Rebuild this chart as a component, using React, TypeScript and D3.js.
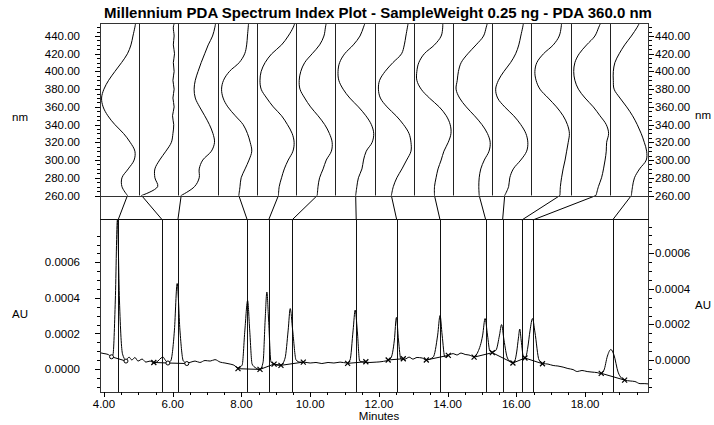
import React from 'react';
import * as d3 from 'd3';

const W = 714;
const H = 425;
const TITLE = 'Millennium PDA Spectrum Index Plot - SampleWeight 0.25 ng - PDA 360.0 nm';

// Chromatogram trace: time (min) and absorbance (x 1e-4 AU)
const chromTime = [3.88,4.00,4.12,4.20,4.26,4.33,4.39,4.45,4.54,4.64,4.73,4.81,4.90,4.99,5.11,5.22,5.34,5.46,5.57,5.66,5.72,5.78,5.86,5.94,6.05,6.13,6.21,6.31,6.42,6.53,6.65,6.79,6.94,7.09,7.23,7.38,7.52,7.67,7.78,7.90,8.02,8.10,8.18,8.24,8.31,8.42,8.54,8.63,8.69,8.74,8.79,8.86,8.95,9.03,9.15,9.27,9.36,9.42,9.49,9.59,9.70,9.82,10.00,10.17,10.34,10.52,10.69,10.87,11.07,11.16,11.25,11.31,11.37,11.44,11.57,11.74,11.92,12.09,12.27,12.35,12.45,12.51,12.57,12.64,12.76,12.88,12.99,13.11,13.26,13.37,13.58,13.71,13.78,13.84,13.92,14.04,14.16,14.27,14.39,14.51,14.62,14.77,14.88,15.02,15.09,15.16,15.23,15.32,15.41,15.51,15.57,15.64,15.74,15.85,15.93,16.01,16.06,16.10,16.14,16.21,16.27,16.33,16.40,16.47,16.54,16.66,16.78,16.92,17.07,17.21,17.36,17.50,17.65,17.77,17.91,18.06,18.20,18.35,18.46,18.55,18.65,18.75,18.84,18.96,19.06,19.16,19.31,19.45,19.60,19.74,19.86];
const chromAU = [0.92,0.87,0.82,0.73,0.79,3.88,8.38,3.88,0.84,0.51,0.67,0.51,0.65,0.45,0.56,0.39,0.45,0.34,0.45,0.62,0.67,0.51,0.37,0.45,2.19,4.81,2.19,0.45,0.34,0.39,0.45,0.37,0.48,0.45,0.53,0.39,0.34,0.28,0.22,0.06,0.22,2.19,3.85,2.19,0.28,0.06,-0.03,0.39,2.76,4.33,2.76,0.39,0.28,0.22,0.22,0.62,2.19,3.40,2.19,0.51,0.39,0.39,0.34,0.37,0.31,0.37,0.34,0.39,0.34,0.51,2.19,3.32,2.19,0.45,0.39,0.37,0.39,0.42,0.51,0.62,1.63,2.90,1.63,0.56,0.56,0.67,0.56,0.65,0.62,0.51,0.67,1.91,3.01,1.91,0.67,0.79,0.87,0.79,0.90,0.82,0.79,0.70,0.96,1.91,2.84,1.91,1.01,0.96,1.07,1.91,2.50,1.63,0.62,0.39,0.37,0.96,1.74,2.25,1.63,0.67,0.67,1.18,2.19,2.84,2.08,0.51,0.31,0.28,0.20,0.17,0.11,0.03,-0.03,-0.14,-0.08,-0.14,-0.17,-0.20,-0.25,-0.06,0.73,1.10,0.79,-0.17,-0.51,-0.62,-0.67,-0.70,-0.82,-0.82,-0.84];

// Integration baselines: [time, AU x1e-4, marker type]
const intBaselines: [number, number, string][][] = [
  [[4.22, 0.69, 'o'], [4.64, 0.45, 'o']],
  [[5.45, 0.37, 'x'], [5.86, 0.34, 'o'], [6.41, 0.31, 'o']],
  [[7.90, 0.02, 'x'], [8.54, -0.02, 'x'], [8.95, 0.28, 'x'], [9.15, 0.21, 'x'], [9.80, 0.39, 'x']],
  [[11.09, 0.32, 'x'], [11.62, 0.41, 'x']],
  [[12.27, 0.51, 'x'], [12.71, 0.58, 'x']],
  [[13.38, 0.51, 'x'], [14.02, 0.77, 'x']],
  [[14.77, 0.67, 'x'], [15.30, 0.92, 'x'], [15.90, 0.34, 'x'], [16.25, 0.62, 'x'], [16.76, 0.30, 'x']],
  [[18.47, -0.24, 'x'], [19.15, -0.62, 'x']],
];

// Peak apex retention times (min), one spectrum per peak
const peakTimes = [4.41, 5.70, 6.15, 8.17, 8.79, 9.47, 11.34, 12.52, 13.78, 15.11, 15.60, 16.16, 16.48, 18.80];

// Spectra: wavelength grid (nm) and normalised absorbance (0..1 of column width)
const spectrumWl = [260, 270, 280, 290, 300, 310, 320, 330, 340, 350, 360, 370, 380, 390, 400, 410, 420, 430, 440, 450, 455];
const spectra = [
  [0.70,0.56,0.56,0.72,0.87,0.89,0.77,0.60,0.38,0.20,0.08,0.04,0.10,0.22,0.38,0.55,0.70,0.79,0.84,0.89,0.91],
  [0.06,0.47,0.40,0.40,0.52,0.68,0.82,0.86,0.88,0.85,0.89,0.86,0.89,0.86,0.89,0.87,0.90,0.87,0.89,0.87,0.90],
  [0.07,0.41,0.53,0.53,0.62,0.84,0.92,0.88,0.79,0.67,0.54,0.43,0.40,0.43,0.50,0.58,0.67,0.76,0.87,0.93,0.95],
  [0.54,0.57,0.60,0.70,0.80,0.87,0.83,0.76,0.65,0.45,0.26,0.14,0.10,0.15,0.30,0.55,0.69,0.74,0.76,0.78,0.79],
  [0.55,0.57,0.63,0.70,0.80,0.92,0.95,0.90,0.78,0.63,0.42,0.25,0.11,0.08,0.11,0.21,0.38,0.63,0.80,0.93,0.97],
  [0.54,0.56,0.60,0.69,0.77,0.90,0.92,0.85,0.73,0.56,0.37,0.22,0.10,0.08,0.12,0.22,0.41,0.60,0.71,0.75,0.77],
  [0.52,0.55,0.59,0.68,0.72,0.79,0.94,0.98,0.92,0.78,0.59,0.37,0.20,0.09,0.07,0.11,0.24,0.46,0.63,0.72,0.76],
  [0.43,0.48,0.57,0.70,0.82,0.93,0.93,0.88,0.74,0.55,0.32,0.15,0.10,0.13,0.27,0.47,0.69,0.76,0.80,0.84,0.86],
  [0.53,0.53,0.57,0.62,0.70,0.77,0.88,0.95,0.93,0.83,0.65,0.40,0.19,0.08,0.08,0.13,0.27,0.53,0.70,0.74,0.74],
  [0.67,0.66,0.67,0.71,0.80,0.92,0.95,0.88,0.74,0.55,0.34,0.17,0.08,0.11,0.14,0.21,0.38,0.59,0.78,0.85,0.88],
  [0.32,0.42,0.45,0.54,0.73,0.88,0.91,0.86,0.73,0.55,0.32,0.14,0.09,0.16,0.30,0.47,0.60,0.68,0.73,0.78,0.80],
  [0.73,0.74,0.77,0.81,0.86,0.90,0.94,0.97,0.92,0.81,0.64,0.43,0.22,0.12,0.09,0.14,0.31,0.56,0.71,0.76,0.77],
  [0.65,0.71,0.79,0.84,0.88,0.91,0.92,0.97,0.91,0.75,0.58,0.37,0.20,0.11,0.08,0.11,0.22,0.41,0.62,0.72,0.77],
  [0.55,0.58,0.63,0.76,0.93,0.94,0.88,0.80,0.70,0.58,0.43,0.26,0.11,0.09,0.09,0.13,0.24,0.38,0.55,0.70,0.76],
];

// Axis ticks
const wlTickLabels = [260, 280, 300, 320, 340, 360, 380, 400, 420, 440];
const auTickLabels = [0, 0.0002, 0.0004, 0.0006];
const timeTickLabels = [4, 6, 8, 10, 12, 14, 16, 18];

const FONT = "'Liberation Sans', Arial, sans-serif";

export default function App() {
  const L = 100, R = 649, T = 23, SB = 195.5, CT = 220, B = 392;
  const x = d3.scaleLinear().domain([3.884, 19.86]).range([L, R]);
  const yL = d3.scaleLinear().domain([-0.000129, 0.000838]).range([B, CT]);
  const yR = d3.scaleLinear().domain([-0.00018, 0.000787]).range([B, CT]);
  const wl = d3.scaleLinear().domain([260, 454.7]).range([SB, T]);
  const col = d3.scaleLinear().domain([0, spectra.length]).range([L, R]);

  const trace = chromTime.map((t, i) => [t, chromAU[i] * 1e-4] as [number, number]);
  const chromLine = d3.line<[number, number]>()
    .x(d => x(d[0])).y(d => yL(d[1])).curve(d3.curveMonotoneX);

  const specPaths = spectra.map((vals, ci) => {
    const cx = d3.scaleLinear().domain([0, 1]).range([col(ci), col(ci + 1)]);
    const ln = d3.line<number>()
      .x(v => cx(v)).y((_, i) => wl(spectrumWl[i])).curve(d3.curveCatmullRom.alpha(0.5));
    return { d: ln(vals) || '', start: cx(vals[0]) };
  });

  const px = (v: number) => Math.round(v) + 0.5;

  const wlMinor = d3.range(260, 451, 5);
  const auMinorL = d3.range(-0.0001, 0.00076, 0.00005).filter(v => yL(v) >= CT && yL(v) <= B);
  const auMinorR = d3.range(-0.00015, 0.00076, 0.00005).filter(v => yR(v) >= CT && yR(v) <= B);
  const tMinor = d3.range(4, 19.51, 0.5);

  const isMajor = (v: number, arr: number[], eps: number) => arr.some(a => Math.abs(a - v) < eps);

  const stroke = '#000';

  return (
    <svg width={W} height={H} style={{ position: 'absolute', left: 0, top: 0, background: '#fff' }}
      fontFamily={FONT}>
      <rect x={0} y={0} width={W} height={H} fill="#fff" />
      <text x={378} y={18} textAnchor="middle" fontWeight="bold" fontSize={15}>{TITLE}</text>

      <defs>
        <clipPath id="chromClip"><rect x={L} y={CT} width={R - L} height={B - CT} /></clipPath>
        <clipPath id="specClip"><rect x={L} y={T} width={R - L} height={SB - T} /></clipPath>
      </defs>

      {/* spectra */}
      <g clipPath="url(#specClip)">
        {specPaths.map((s, i) => (
          <path key={i} d={s.d} fill="none" stroke={stroke} strokeWidth={1} />
        ))}
      </g>
      {d3.range(1, spectra.length).map(i => (
        <line key={i} x1={px(col(i))} x2={px(col(i))} y1={T} y2={SB} stroke="#222" strokeWidth={1} />
      ))}

      {/* connectors and peak lines */}
      {peakTimes.map((t, i) => (
        <g key={i}>
          <polyline points={`${specPaths[i].start},${SB} ${x(t)},${CT}`} fill="none" stroke={stroke} strokeWidth={1} />
          <line x1={px(x(t))} x2={px(x(t))} y1={CT} y2={B} stroke="#111" strokeWidth={1} />
        </g>
      ))}

      {/* chromatogram */}
      <g clipPath="url(#chromClip)">
        <path d={chromLine(trace) || ''} fill="none" stroke={stroke} strokeWidth={1} />
        {intBaselines.map((seg, si) => (
          <g key={si}>
            <polyline points={seg.map(p => `${x(p[0])},${yL(p[1] * 1e-4)}`).join(' ')} fill="none" stroke={stroke} strokeWidth={1} />
            {seg.map((p, pi) => {
              const cx = x(p[0]), cy = yL(p[1] * 1e-4);
              return p[2] === 'o'
                ? <circle key={pi} cx={cx} cy={cy} r={2} fill="#fff" stroke={stroke} strokeWidth={1} />
                : <path key={pi} d={`M${cx - 2.5},${cy - 2.5}L${cx + 2.5},${cy + 2.5}M${cx - 2.5},${cy + 2.5}L${cx + 2.5},${cy - 2.5}`} stroke={stroke} strokeWidth={1.2} />;
            })}
          </g>
        ))}
      </g>

      {/* frame */}
      <rect x={L + 0.5} y={T + 0.5} width={R - L - 1} height={B - T} fill="none" stroke="#333" strokeWidth={1} />
      <line x1={L} x2={R} y1={px(SB)} y2={px(SB)} stroke="#333" />
      <line x1={L} x2={R} y1={px(CT) - 1} y2={px(CT) - 1} stroke="#111" />

      {/* left wavelength axis */}
      {wlMinor.map(v => {
        const mj = isMajor(v, wlTickLabels, 0.1);
        return <line key={v} x1={L - (mj ? 5 : 3)} x2={L} y1={px(wl(v))} y2={px(wl(v))} stroke="#000" />;
      })}
      {wlTickLabels.map(v => (
        <text key={v} x={80} y={wl(v)} dy="0.35em" textAnchor="end" fontSize={11.5}>{v.toFixed(2)}</text>
      ))}
      {/* right wavelength axis */}
      {wlMinor.map(v => {
        const mj = isMajor(v, wlTickLabels, 0.1);
        return <line key={v} x1={R} x2={R + (mj ? 5 : 3)} y1={px(wl(v))} y2={px(wl(v))} stroke="#000" />;
      })}
      {wlTickLabels.map(v => (
        <text key={v} x={655} y={wl(v)} dy="0.35em" textAnchor="start" fontSize={11.5}>{v.toFixed(2)}</text>
      ))}
      <text x={20} y={117} dy="0.35em" textAnchor="middle" fontSize={11.5}>nm</text>
      <text x={711} y={115} dy="0.35em" textAnchor="end" fontSize={11.5}>nm</text>

      {/* left AU axis */}
      {auMinorL.map(v => {
        const mj = isMajor(v, auTickLabels, 1e-6);
        return <line key={v} x1={L - (mj ? 5 : 3)} x2={L} y1={px(yL(v))} y2={px(yL(v))} stroke="#000" />;
      })}
      {auTickLabels.map(v => (
        <text key={v} x={80} y={yL(v)} dy="0.35em" textAnchor="end" fontSize={11.5}>{v.toFixed(4)}</text>
      ))}
      {/* right AU axis */}
      {auMinorR.map(v => {
        const mj = isMajor(v, auTickLabels, 1e-6);
        return <line key={v} x1={R} x2={R + (mj ? 5 : 3)} y1={px(yR(v))} y2={px(yR(v))} stroke="#000" />;
      })}
      {auTickLabels.map(v => (
        <text key={v} x={655} y={yR(v)} dy="0.35em" textAnchor="start" fontSize={11.5}>{v.toFixed(4)}</text>
      ))}
      <text x={20} y={314} dy="0.35em" textAnchor="middle" fontSize={11.5}>AU</text>
      <text x={695} y={305} dy="0.35em" textAnchor="start" fontSize={11.5}>AU</text>

      {/* time axis */}
      {tMinor.map(v => {
        const mj = isMajor(v, timeTickLabels, 0.01);
        return <line key={v} x1={px(x(v))} x2={px(x(v))} y1={B} y2={B + (mj ? 5 : 3)} stroke="#000" />;
      })}
      {timeTickLabels.map(v => (
        <text key={v} x={x(v)} y={408} textAnchor="middle" fontSize={11.5}>{v.toFixed(2)}</text>
      ))}
      <text x={379} y={420} textAnchor="middle" fontSize={11.5}>Minutes</text>
    </svg>
  );
}
